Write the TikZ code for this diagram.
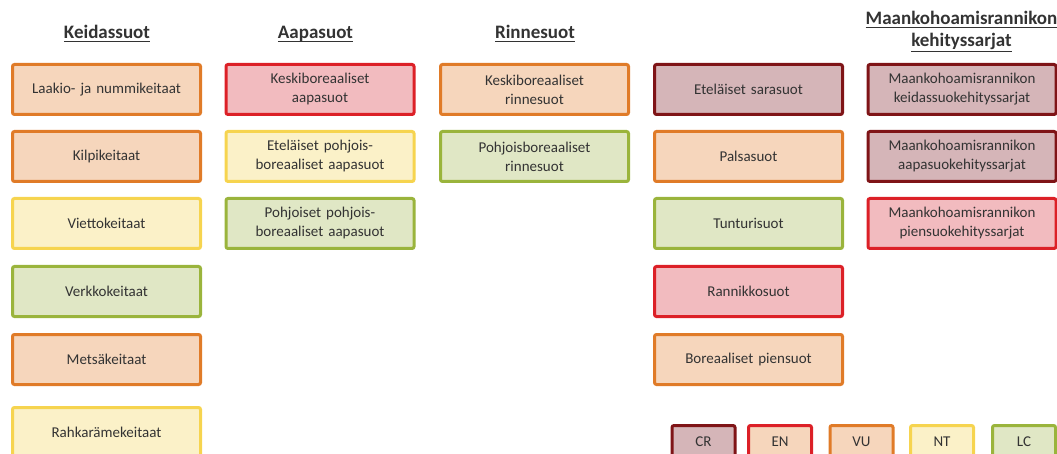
\documentclass[tikz,border=0pt]{standalone}
\usepackage{fontspec}
\setmainfont{Carlito}
\definecolor{orB}{HTML}{E07B28}\definecolor{orF}{HTML}{F6D6BC}
\definecolor{reB}{HTML}{DC2027}\definecolor{reF}{HTML}{F2BBBF}
\definecolor{yeB}{HTML}{F6D44F}\definecolor{yeF}{HTML}{FBF1C8}
\definecolor{grB}{HTML}{9AB43C}\definecolor{grF}{HTML}{E0E7C5}
\definecolor{drB}{HTML}{7F1417}\definecolor{drF}{HTML}{D5B5B8}
\definecolor{txt}{HTML}{333333}
\begin{document}
\begin{tikzpicture}[x=1pt,y=-1pt,
  box/.style={draw, line width=3pt, rounded corners=2pt, minimum width=188pt, minimum height=50pt,
    text width=185pt, align=center, inner sep=0pt, outer sep=0pt, text=txt,
    font=\fontsize{15}{19}\selectfont},
  leg/.style={draw, line width=3pt, rounded corners=2pt, minimum width=63pt, minimum height=33pt,
    inner sep=0pt, text=txt, font=\fontsize{15}{19}\selectfont},
  orbox/.style={box, draw=orB, fill=orF},
  rebox/.style={box, draw=reB, fill=reF},
  yebox/.style={box, draw=yeB, fill=yeF},
  grbox/.style={box, draw=grB, fill=grF},
  drbox/.style={box, draw=drB, fill=drF},
  head/.style={text=txt, anchor=base, inner sep=0pt, outer sep=0pt, font=\fontsize{19}{23}\selectfont\bfseries},
  uline/.style={draw=txt, line width=1.4pt}]
\useasboundingbox (0,0) rectangle (1057,454);
\clip (0,0) rectangle (1057,454);
% headers
\node[head] (h1) at (107,38.5) {Keidassuot};
\node[head] (h2) at (315.5,38.5) {Aapasuot};
\node[head] (h3) at (535,38.5) {Rinnesuot};
\node[head] (h5a) at (961.5,25) {Maankohoamisrannikon};
\node[head] (h5b) at (961.5,47) {kehityssarjat};
\foreach \h in {h1,h2,h3,h5a}
  \draw[uline] ([yshift=-2.8pt]\h.base west) -- ([yshift=-2.8pt]\h.base east);
\draw[uline] ([yshift=-4.6pt]h5b.base west) -- ([yshift=-4.6pt]h5b.base east);
% column 1
\node[orbox] (a1) at (106.5,89.5) {Laakio- ja nummikeitaat};
\node[orbox] (a2) at (106.5,156.5) {Kilpikeitaat};
\node[yebox] (a3) at (106.5,223.5) {Viettokeitaat};
\node[grbox] (a4) at (106.5,291.5) {Verkkokeitaat};
\node[orbox] (a5) at (106.5,359.5) {Metsäkeitaat};
\node[yebox] (a6) at (106.5,432.5) {Rahkarämekeitaat};
% column 2
\node[rebox] (b1) at (320,89.5) {Keskiboreaaliset\\aapasuot};
\node[yebox] (b2) at (320,156.5) {Eteläiset pohjois-\\boreaaliset aapasuot};
\node[grbox] (b3) at (320,223.5) {Pohjoiset pohjois-\\boreaaliset aapasuot};
% column 3
\node[orbox] (c1) at (534.5,89.5) {Keskiboreaaliset\\rinnesuot};
\node[grbox] (c2) at (534.5,156.5) {Pohjoisboreaaliset\\rinnesuot};
% column 4
\node[drbox] (d1) at (748.5,89.5) {Eteläiset sarasuot};
\node[orbox] (d2) at (748.5,156.5) {Palsasuot};
\node[grbox] (d3) at (748.5,223.5) {Tunturisuot};
\node[rebox] (d4) at (748.5,291.5) {Rannikkosuot};
\node[orbox] (d5) at (748.5,359.5) {Boreaaliset piensuot};
% column 5
\node[drbox] (e1) at (962,89.5) {Maankohoamisrannikon\\keidassuokehityssarjat};
\node[drbox] (e2) at (962,156.5) {Maankohoamisrannikon\\aapasuokehityssarjat};
\node[rebox] (e3) at (962,223.5) {Maankohoamisrannikon\\piensuokehityssarjat};
% legend
\node[leg, draw=drB, fill=drF] (lcr) at (703.5,442) {CR};
\node[leg, draw=reB, fill=orF] (len) at (780,442) {EN};
\node[leg, draw=orB, fill=orF] (lvu) at (861.5,442) {VU};
\node[leg, draw=yeB, fill=yeF] (lnt) at (942,442) {NT};
\node[leg, draw=grB, fill=grF] (llc) at (1024,442) {LC};
\end{tikzpicture}
\end{document}
